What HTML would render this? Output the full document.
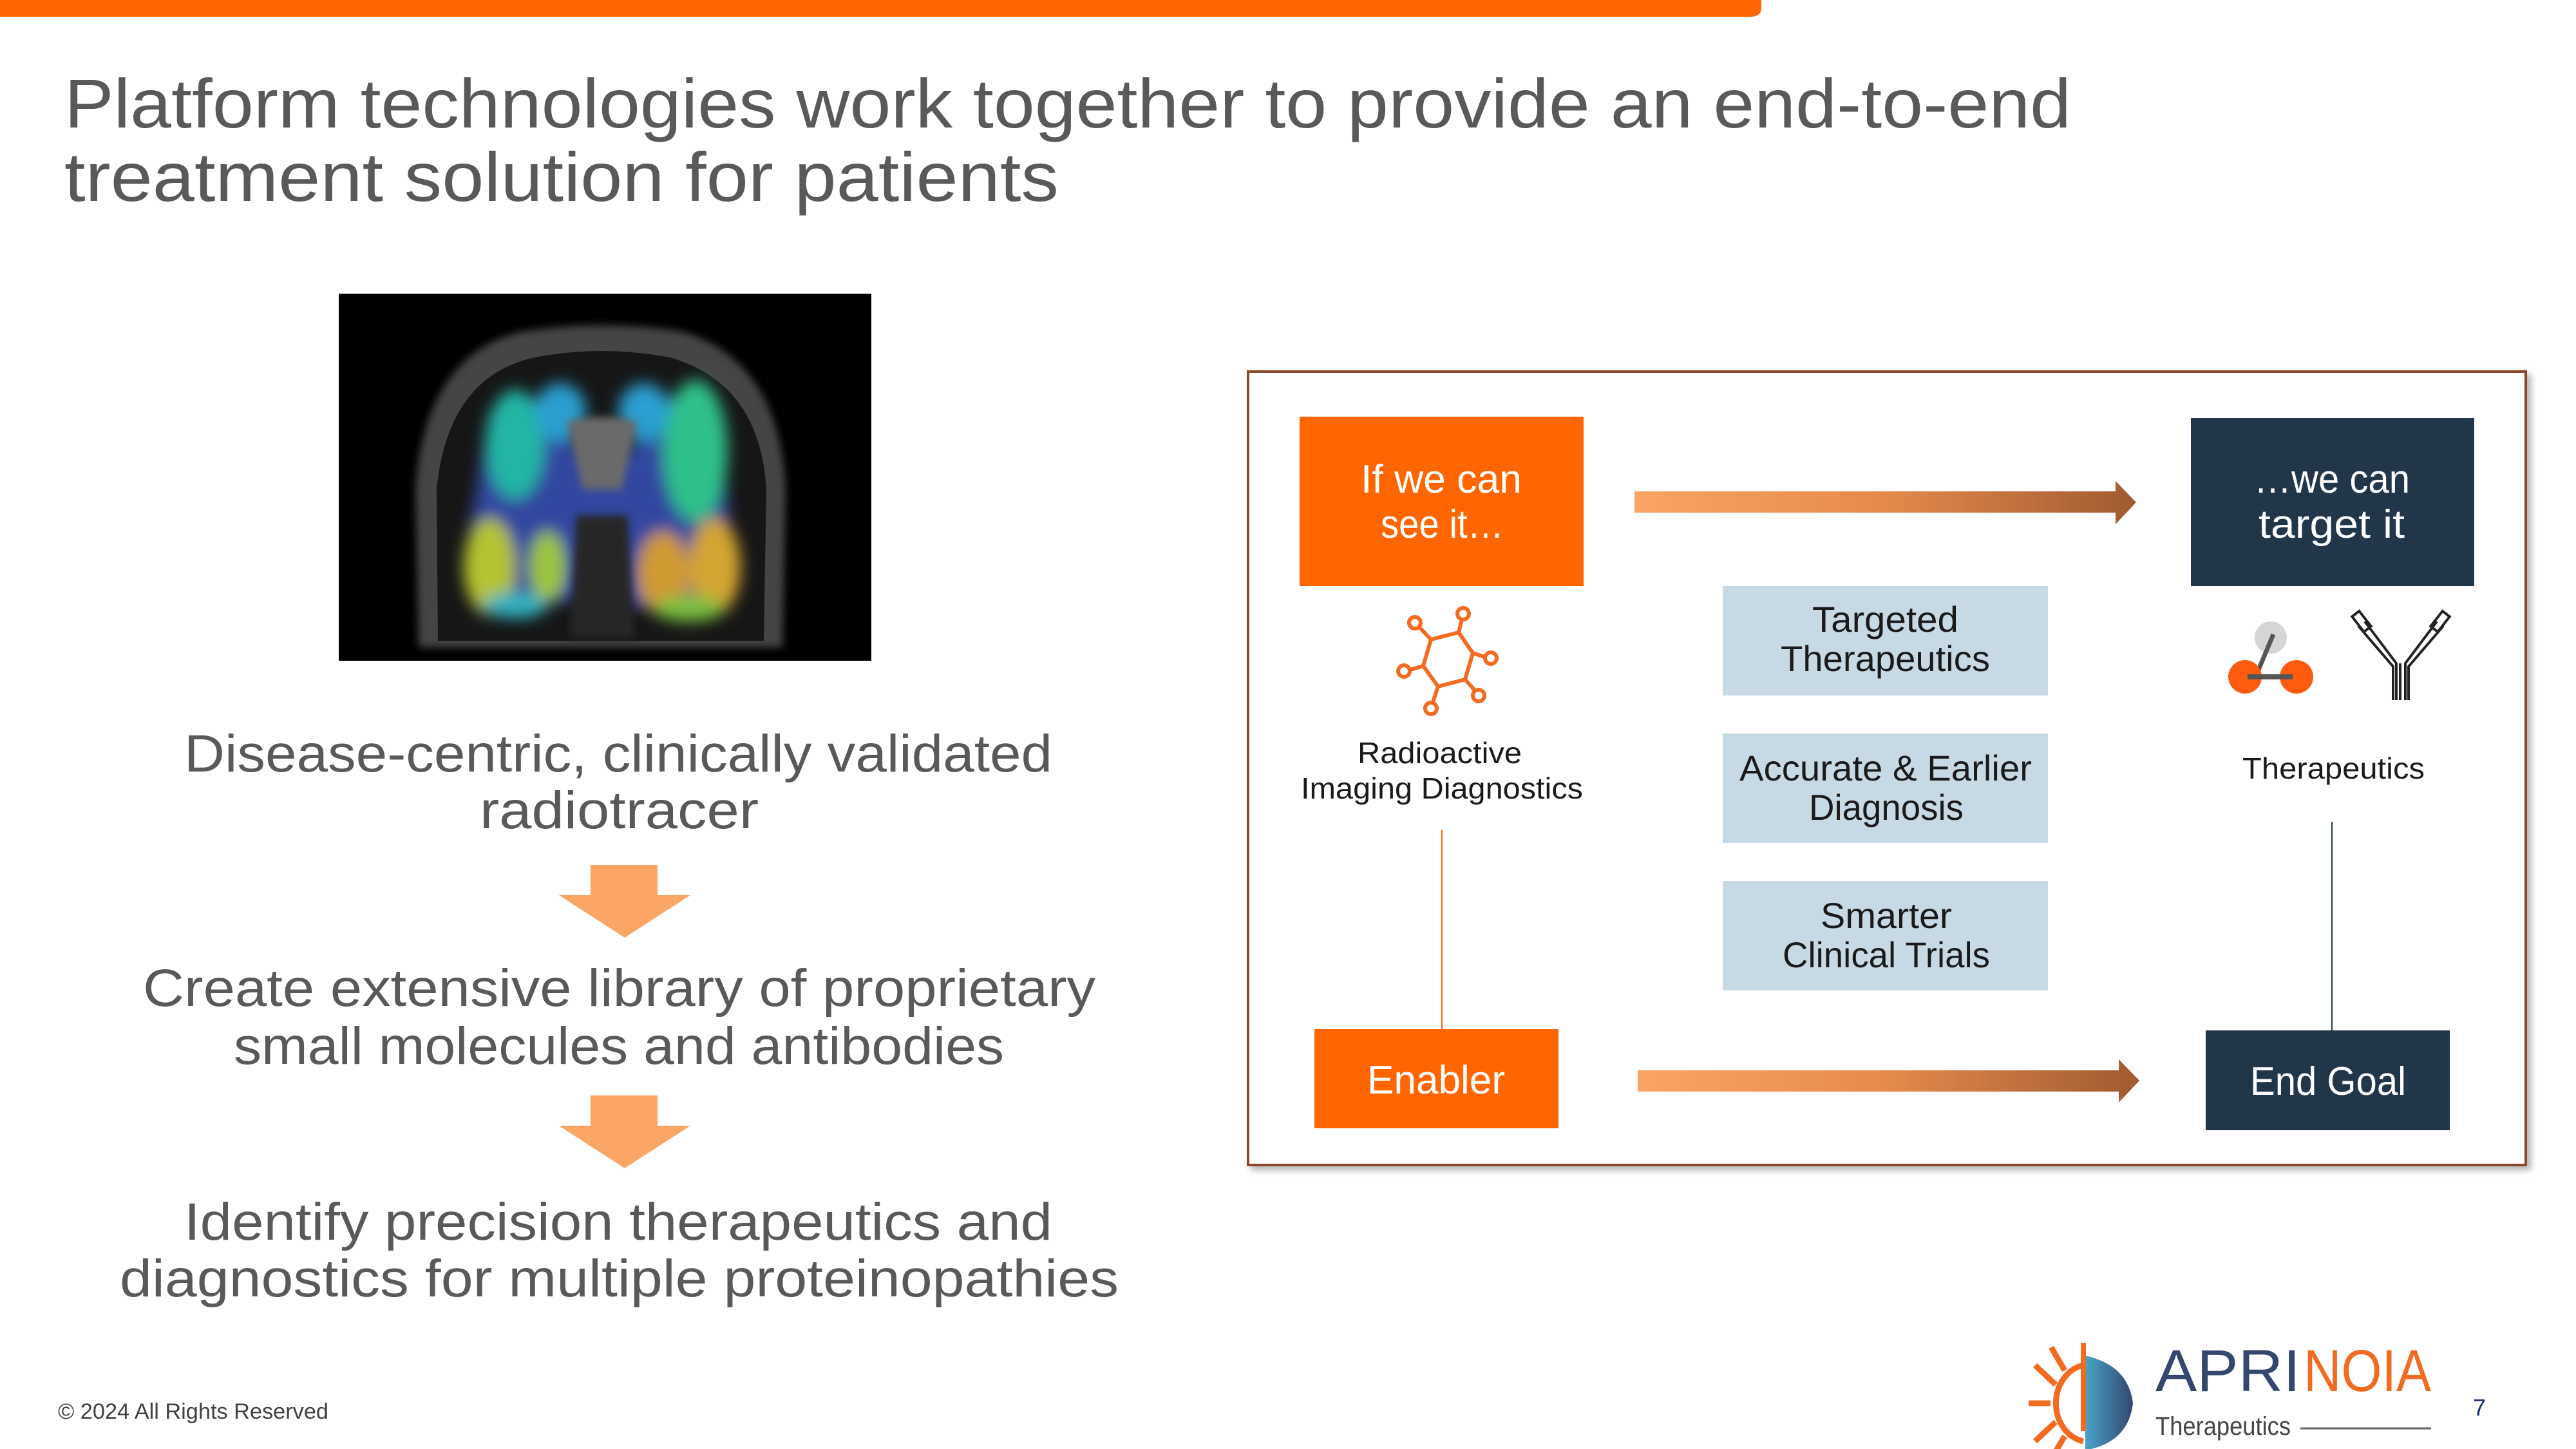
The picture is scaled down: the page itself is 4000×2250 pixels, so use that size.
<!DOCTYPE html>
<html><head><meta charset="utf-8"><style>
html,body{margin:0;padding:0;background:#fff;}
svg{display:block;}
text{font-family:"Liberation Sans Narrow","Liberation Sans",sans-serif;}
</style></head><body>
<svg width="4000" height="2250" viewBox="0 0 4000 2250" xmlns="http://www.w3.org/2000/svg">
<defs>
<linearGradient id="ag" x1="0" x2="1" y1="0" y2="0">
<stop offset="0" stop-color="#fba466"/><stop offset="0.5" stop-color="#e48a4c"/><stop offset="1" stop-color="#a05a30"/>
</linearGradient>
<linearGradient id="lg" x1="0" x2="1"><stop offset="0" stop-color="#4aa3c8"/><stop offset="1" stop-color="#34476e"/></linearGradient>
<filter id="bl" x="-20%" y="-20%" width="140%" height="140%"><feGaussianBlur stdDeviation="12"/></filter>
<filter id="bl2"><feGaussianBlur stdDeviation="6"/></filter>
<filter id="sh" x="-5%" y="-5%" width="110%" height="110%"><feDropShadow dx="6" dy="6" stdDeviation="5" flood-color="#000" flood-opacity="0.3"/></filter>
</defs>
<path d="M0 0 H2735 V12 Q2735 26 2718 26 H0 Z" fill="#ff6600"/>
<g fill="#595959" font-size="108">
<text x="100" y="198" textLength="3116" lengthAdjust="spacingAndGlyphs">Platform technologies work together to provide an end-to-end</text>
<text x="100" y="312" textLength="1544" lengthAdjust="spacingAndGlyphs">treatment solution for patients</text>
</g>
<!-- brain image -->
<rect x="526" y="456" width="827" height="570" fill="#000"/>
<g>
<path d="M650 1005 L645 760 Q660 550 810 515 Q935 495 1060 515 Q1210 560 1220 760 L1215 1005 Z" fill="#444" filter="url(#bl2)"/>
<path d="M680 995 L678 760 Q695 585 830 555 Q935 535 1040 555 Q1180 595 1190 760 L1186 995 Z" fill="#161616"/>
<g filter="url(#bl)">
<path d="M760 640 Q800 600 850 630 L900 700 L980 700 L1030 620 Q1090 600 1120 660 L1140 900 Q1100 960 1040 950 L900 930 L780 950 Q730 930 720 880 Z" fill="#3347a0"/>
<ellipse cx="800" cy="690" rx="45" ry="85" fill="#22b5a5"/>
<ellipse cx="1080" cy="700" rx="50" ry="110" fill="#2fc08a"/>
<ellipse cx="870" cy="640" rx="40" ry="45" fill="#2a9fd0"/>
<ellipse cx="1000" cy="640" rx="40" ry="45" fill="#2a9fd0"/>
<ellipse cx="760" cy="880" rx="40" ry="75" fill="#b5c230"/>
<ellipse cx="850" cy="880" rx="28" ry="55" fill="#9dc43c"/>
<ellipse cx="1030" cy="890" rx="40" ry="65" fill="#d09a30"/>
<ellipse cx="1110" cy="880" rx="40" ry="75" fill="#d3a530"/>
<ellipse cx="800" cy="940" rx="50" ry="20" fill="#30b0c0"/>
<ellipse cx="1070" cy="945" rx="55" ry="20" fill="#7ac040"/>
</g>
<path d="M880 655 Q935 640 990 655 L965 760 L905 760 Z" fill="#6a6a6a" filter="url(#bl2)"/>
<path d="M895 800 L975 800 L985 990 L885 990 Z" fill="#262626" filter="url(#bl2)"/>
</g>
<g fill="#595959" font-size="82">
<text x="286" y="1198" textLength="1348" lengthAdjust="spacingAndGlyphs">Disease-centric, clinically validated</text>
<text x="745" y="1286" textLength="433" lengthAdjust="spacingAndGlyphs">radiotracer</text>
<text x="222" y="1562" textLength="1479" lengthAdjust="spacingAndGlyphs">Create extensive library of proprietary</text>
<text x="363" y="1652" textLength="1196" lengthAdjust="spacingAndGlyphs">small molecules and antibodies</text>
<text x="286" y="1925" textLength="1348" lengthAdjust="spacingAndGlyphs">Identify precision therapeutics and</text>
<text x="186" y="2013" textLength="1551" lengthAdjust="spacingAndGlyphs">diagnostics for multiple proteinopathies</text>
</g>
<polygon points="917,1343 1021,1343 1021,1390 1072,1390 970,1456 868,1390 917,1390" fill="#fba666"/>
<polygon points="917,1701 1021,1701 1021,1748 1072,1748 970,1814 868,1748 917,1748" fill="#fba666"/>
<text x="90" y="2203" font-size="34" fill="#404040" textLength="420" lengthAdjust="spacingAndGlyphs" style="font-family:'Liberation Sans',sans-serif">© 2024 All Rights Reserved</text>
<rect x="1938" y="577" width="1984" height="1232" fill="#fff" stroke="#8b4a2a" stroke-width="4" filter="url(#sh)"/>
<rect x="2018" y="647" width="441" height="263" fill="#ff6600"/>
<rect x="3402" y="649" width="440" height="261" fill="#22364a"/>
<rect x="2041" y="1598" width="379" height="154" fill="#ff6600"/>
<rect x="3425" y="1600" width="379" height="155" fill="#22364a"/>
<rect x="2675" y="910" width="505" height="170" fill="#c8d9e6"/>
<rect x="2675" y="1139" width="505" height="170" fill="#c8d9e6"/>
<rect x="2675" y="1368" width="505" height="170" fill="#c8d9e6"/>
<polygon points="2538,763 3285,763 3285,747 3317,780 3285,814 3285,796 2538,796" fill="url(#ag)"/>
<polygon points="2543,1662 3290,1662 3290,1645 3322,1678 3290,1712 3290,1695 2543,1695" fill="url(#ag)"/>
<line x1="2239" y1="1289" x2="2239" y2="1598" stroke="#ff6600" stroke-width="2"/>
<line x1="3621" y1="1276" x2="3621" y2="1600" stroke="#22364a" stroke-width="2"/>
<g fill="#fff" font-size="62">
<text x="2113" y="765" textLength="250" lengthAdjust="spacingAndGlyphs">If we can</text>
<text x="2144" y="835" textLength="191" lengthAdjust="spacingAndGlyphs">see it…</text>
<text x="3500" y="765" textLength="242" lengthAdjust="spacingAndGlyphs">…we can</text>
<text x="3507" y="835" textLength="227" lengthAdjust="spacingAndGlyphs">target it</text>
<text x="2123" y="1698" textLength="214" lengthAdjust="spacingAndGlyphs">Enabler</text>
<text x="3494" y="1700" textLength="242" lengthAdjust="spacingAndGlyphs">End Goal</text>
</g>
<g fill="#1a1a1a" font-size="56">
<text x="2814" y="981" textLength="227" lengthAdjust="spacingAndGlyphs">Targeted</text>
<text x="2765" y="1042" textLength="325" lengthAdjust="spacingAndGlyphs">Therapeutics</text>
<text x="2701" y="1212" textLength="454" lengthAdjust="spacingAndGlyphs">Accurate &amp; Earlier</text>
<text x="2809" y="1273" textLength="240" lengthAdjust="spacingAndGlyphs">Diagnosis</text>
<text x="2827" y="1441" textLength="204" lengthAdjust="spacingAndGlyphs">Smarter</text>
<text x="2768" y="1502" textLength="322" lengthAdjust="spacingAndGlyphs">Clinical Trials</text>
</g>
<g fill="#1a1a1a" font-size="46">
<text x="2108" y="1185" textLength="255" lengthAdjust="spacingAndGlyphs">Radioactive</text>
<text x="2020" y="1240" textLength="438" lengthAdjust="spacingAndGlyphs">Imaging Diagnostics</text>
<text x="3482" y="1209" textLength="283" lengthAdjust="spacingAndGlyphs">Therapeutics</text>
</g>
<g stroke="#f26b21" stroke-width="6" fill="none">
<polygon points="2222,993 2265,982 2287,1014 2275,1055 2233,1066 2210,1034"/>
<line x1="2222" y1="993" x2="2205" y2="975"/><circle cx="2197" cy="967" r="9"/>
<line x1="2265" y1="982" x2="2270" y2="962"/><circle cx="2272" cy="953" r="9"/>
<line x1="2287" y1="1014" x2="2305" y2="1020"/><circle cx="2315" cy="1022" r="9"/>
<line x1="2275" y1="1055" x2="2290" y2="1072"/><circle cx="2296" cy="1080" r="9"/>
<line x1="2233" y1="1066" x2="2225" y2="1090"/><circle cx="2222" cy="1100" r="9"/>
<line x1="2210" y1="1034" x2="2190" y2="1040"/><circle cx="2180" cy="1042" r="9"/>
</g>
<circle cx="3526" cy="990" r="25" fill="#d5d5d5"/>
<line x1="3530" y1="985" x2="3505" y2="1045" stroke="#555" stroke-width="7"/>
<circle cx="3486" cy="1051" r="26" fill="#ff5a10"/>
<circle cx="3566" cy="1051" r="26" fill="#ff5a10"/>
<line x1="3490" y1="1051" x2="3560" y2="1051" stroke="#555" stroke-width="8"/>
<g stroke="#222" stroke-width="4" fill="none">
<path d="M3721 1087 V1030 L3672 965 M3735 1087 V1030 L3784 965"/>
<path d="M3716 1087 V1035 L3662 972 M3740 1087 V1035 L3794 972"/>
<path d="M3727 1087 V1030"/>
<rect x="3660" y="950" width="14" height="30" transform="rotate(-38 3667 965)"/>
<rect x="3782" y="950" width="14" height="30" transform="rotate(38 3789 965)"/>
</g>
<g stroke="#f26b21" stroke-width="9" fill="none">
<path d="M3235 2120 A52 60 0 0 0 3235 2238"/>
<line x1="3184" y1="2179" x2="3150" y2="2179"/>
<line x1="3192" y1="2150" x2="3160" y2="2120"/>
<line x1="3192" y1="2208" x2="3160" y2="2238"/>
<line x1="3206" y1="2128" x2="3185" y2="2092"/>
<line x1="3206" y1="2230" x2="3185" y2="2266"/>
</g>
<path d="M3238 2105 Q3305 2120 3312 2179 Q3305 2240 3238 2252 Z" fill="url(#lg)"/>
<line x1="3235" y1="2085" x2="3235" y2="2222" stroke="#f26b21" stroke-width="8"/>
<text x="3347" y="2160" font-size="92" fill="#34476e" style="font-family:'Liberation Sans',sans-serif" textLength="225" lengthAdjust="spacingAndGlyphs">APRI</text>
<text x="3577" y="2160" font-size="92" fill="#f26b21" style="font-family:'Liberation Sans',sans-serif" textLength="198" lengthAdjust="spacingAndGlyphs">NOIA</text>
<text x="3347" y="2228" font-size="40" fill="#444" style="font-family:'Liberation Sans',sans-serif" textLength="210" lengthAdjust="spacingAndGlyphs">Therapeutics</text>
<line x1="3572" y1="2218" x2="3775" y2="2218" stroke="#666" stroke-width="3"/>
<text x="3840" y="2198" font-size="36" fill="#1a2a6a" style="font-family:'Liberation Sans',sans-serif">7</text>
</svg>
</body></html>
